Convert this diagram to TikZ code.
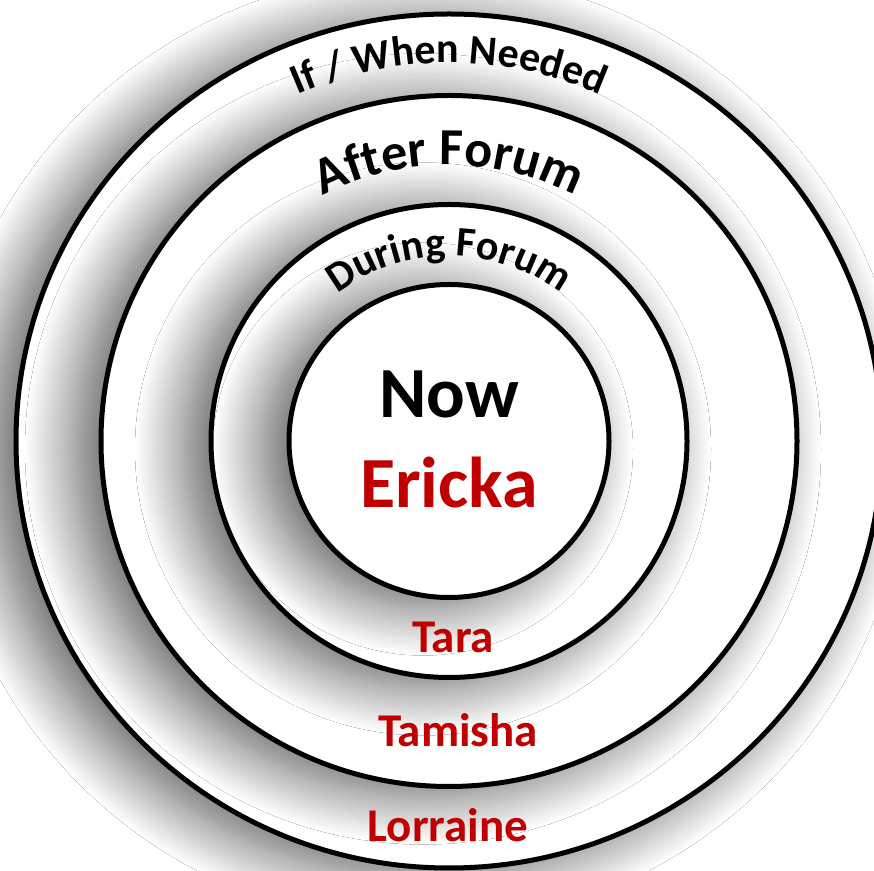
\documentclass[tikz,border=0pt]{standalone}
\usepackage{fontspec}
\setmainfont{Carlito}
\usetikzlibrary{calc,shadows.blur,decorations.text}
\definecolor{namered}{RGB}{192,0,0}
\newcommand\ringfont{\fontsize{42bp}{48bp}\selectfont\bfseries}
\newcommand\afterfont{\fontsize{52bp}{60bp}\selectfont\bfseries}

\begin{document}
\begin{tikzpicture}[x=1bp,y=1bp,
    ring/.style={draw=black,line width=5bp,fill=white,
      blur shadow={shadow xshift=-26bp,shadow yshift=-8bp,shadow blur radius=50bp,shadow blur steps=30,shadow opacity=65}},
    nowtext/.style={font=\fontsize{72bp}{80bp}\selectfont\bfseries,anchor=base,inner sep=0pt},
    nametext/.style={font=\fontsize{47bp}{54bp}\selectfont\bfseries,text=namered,anchor=base,inner sep=0pt},
    arctext/.style={decorate,decoration={text along path,text align=center,text={#1}}}]
    \fill[white] (0,0) rectangle (874,871);
    \useasboundingbox (0,0) rectangle (874,871);
    \coordinate (c) at (449,430);

    \draw[ring] (c) ellipse [x radius=433,y radius=427];
    \draw[ring] (c) ellipse [x radius=348,y radius=345.5];
    \draw[ring] (c) ellipse [x radius=238,y radius=236.5];
    \draw[ring] (c) ellipse [x radius=160,y radius=156.5];

    \path[arctext={|\ringfont|If / When Needed}] ($(c)+(150:378)$) arc [start angle=150,end angle=30,radius=378];
    \path[arctext={|\afterfont|After Forum}] ($(c)+(145:276)$) arc [start angle=145,end angle=35,radius=276];
    \path[arctext={|\ringfont|During Forum}] ($(c)+(140:185)$) arc [start angle=140,end angle=40,radius=185];

    \node[nowtext] (now) at (449,453) {Now};
    \node[nowtext,text=namered] (ericka) at (449,363) {Ericka};
    \node[nametext] (tara) at (453,218) {Tara};
    \node[nametext] (tamisha) at (458,124) {Tamisha};
    \node[nametext] (lorraine) at (448,29) {Lorraine};
\end{tikzpicture}
\end{document}
